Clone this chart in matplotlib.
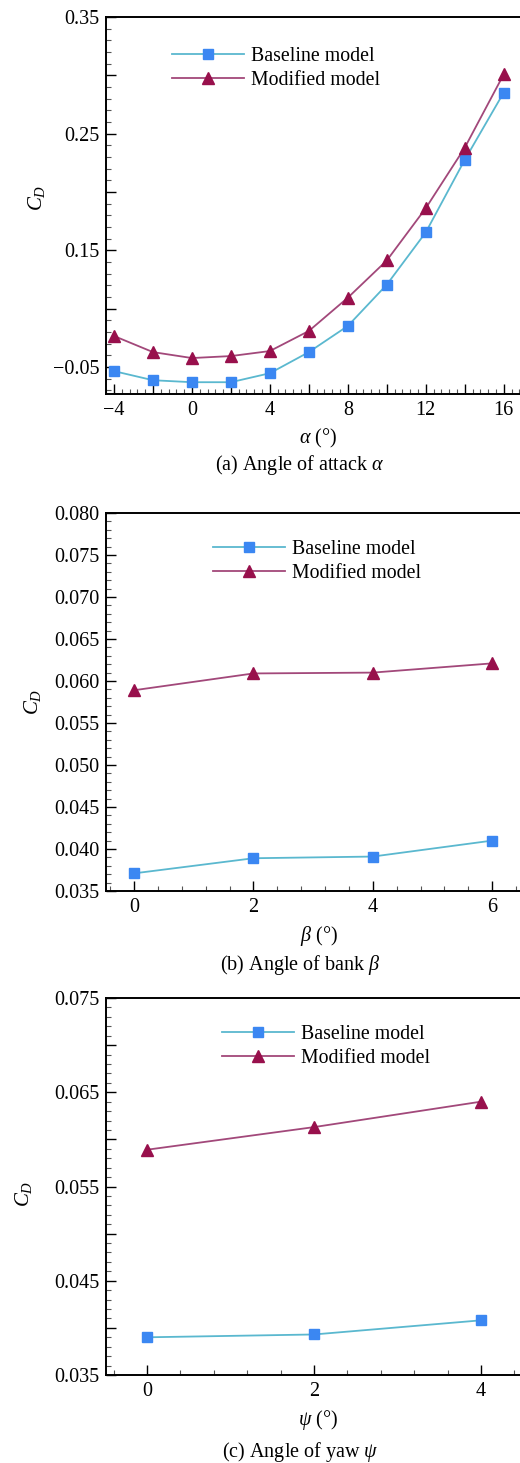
import matplotlib
matplotlib.use('Agg')
import matplotlib.pyplot as plt
from matplotlib.ticker import MultipleLocator

plt.rcParams['font.family'] = ['Liberation Serif', 'DejaVu Serif']
plt.rcParams['mathtext.fontset'] = 'custom'
plt.rcParams['mathtext.rm'] = 'Liberation Serif'
plt.rcParams['mathtext.it'] = 'Liberation Serif:italic'
plt.rcParams['font.size'] = 14

# (a) angle of attack
alpha = [-4, -2, 0, 2, 4, 6, 8, 10, 12, 14, 16]
cd_base_a = [0.0466, 0.0388, 0.0371, 0.0371, 0.0448, 0.0629, 0.0853, 0.1207, 0.1655, 0.2276, 0.2853]
cd_mod_a = [0.0767, 0.0629, 0.0578, 0.0595, 0.0638, 0.0810, 0.1095, 0.1414, 0.1862, 0.2380, 0.3009]

# (b) angle of bank
beta = [0, 2, 4, 6]
cd_base_b = [0.0371, 0.0389, 0.0391, 0.0410]
cd_mod_b = [0.0589, 0.0609, 0.0610, 0.0621]

# (c) angle of yaw
psi = [0, 2, 4]
cd_base_c = [0.0390, 0.0393, 0.0408]
cd_mod_c = [0.0589, 0.0613, 0.0640]

W, H = 520, 1463
fig = plt.figure(figsize=(W / 100, H / 100), dpi=100)

base_line = '#5ab8cf'
base_mark = '#3b87f2'
mod_line = '#a2487a'
mod_mark = '#98104c'
AX_L, AX_R = 106, 531


def px_axes(top, bottom):
    return fig.add_axes([AX_L / W, 1 - bottom / H, (AX_R - AX_L) / W, (bottom - top) / H])


def style(ax, label_x, label_y=0.5):
    for s in ax.spines.values():
        s.set_linewidth(1.4)
    ax.spines['right'].set_visible(False)
    ax.tick_params(which='both', direction='in', top=False, right=False, width=1.0, labelsize=14.5)
    ax.tick_params(which='major', length=7, pad=5)
    ax.tick_params(which='minor', length=3.5, width=0.8, color='#555555')
    ax.set_ylabel(r'$C_D$', fontsize=15)
    ax.yaxis.set_label_coords((label_x - AX_L) / (AX_R - AX_L), label_y)


def draw(ax, x, yb, ym, leg_xy):
    ax.plot(x, yb, color=base_line, lw=1.3, marker='s', ms=7, mfc=base_mark, mec=base_mark,
            label='Baseline model')
    ax.plot(x, ym, color=mod_line, lw=1.3, marker='^', ms=8, mfc=mod_mark, mec=mod_mark,
            label='Modified model')
    ax.legend(loc='upper left', bbox_to_anchor=(leg_xy[0] / W, 1 - leg_xy[1] / H),
              bbox_transform=fig.transFigure, frameon=False, borderpad=0, borderaxespad=0,
              handlelength=3.6, handletextpad=0.4, labelspacing=0.25, fontsize=14.3)


# panel a
ax1 = px_axes(17, 394)
draw(ax1, alpha, cd_base_a, cd_mod_a, (172, 47))
ax1.set_xlim(-4.41, 17.4)
ax1.set_ylim(0.027, 0.35)
ax1.set_xticks([-4, -2, 0, 2, 4, 6, 8, 10, 12, 14, 16])
ax1.set_xticklabels(['\u22124', '', '0', '', '4', '', '8', '', '12', '', '16'])
ax1.set_yticks([0.05, 0.10, 0.15, 0.20, 0.25, 0.30, 0.35])
ax1.set_yticklabels(['\u22120.05', '', '0.15', '', '0.25', '', '0.35'])
ax1.xaxis.set_minor_locator(MultipleLocator(0.4))
ax1.yaxis.set_minor_locator(MultipleLocator(0.01))
style(ax1, 47, 0.52)
ax1.set_xlabel(r'$\alpha$ (°)', fontsize=14.5, labelpad=5)
fig.text(300 / W, 1 - 465 / H, r'(a) Angle of attack $\alpha$', ha='center', va='center', fontsize=14.5)

# panel b
ax2 = px_axes(513, 891)
draw(ax2, beta, cd_base_b, cd_mod_b, (213, 540))
ax2.set_xlim(-0.47, 6.65)
ax2.set_ylim(0.035, 0.080)
ax2.set_xticks([0, 2, 4, 6])
ax2.set_yticks([0.035, 0.040, 0.045, 0.050, 0.055, 0.060, 0.065, 0.070, 0.075, 0.080])
ax2.set_yticklabels(['0.035', '0.040', '0.045', '0.050', '0.055', '0.060', '0.065', '0.070', '0.075', '0.080'])
ax2.xaxis.set_minor_locator(MultipleLocator(0.4))
ax2.yaxis.set_minor_locator(MultipleLocator(0.001))
style(ax2, 43)
ax2.set_xlabel(r'$\beta$ (°)', fontsize=14.5, labelpad=5)
fig.text(300 / W, 1 - 965 / H, r'(b) Angle of bank $\beta$', ha='center', va='center', fontsize=14.5)

# panel c
ax3 = px_axes(998, 1375)
draw(ax3, psi, cd_base_c, cd_mod_c, (222, 1025))
ax3.set_xlim(-0.49, 4.6)
ax3.set_ylim(0.035, 0.075)
ax3.set_xticks([0, 2, 4])
ax3.set_yticks([0.035, 0.040, 0.045, 0.050, 0.055, 0.060, 0.065, 0.070, 0.075])
ax3.set_yticklabels(['0.035', '', '0.045', '', '0.055', '', '0.065', '', '0.075'])
ax3.xaxis.set_minor_locator(MultipleLocator(0.4))
ax3.yaxis.set_minor_locator(MultipleLocator(0.001))
style(ax3, 34, 0.48)
ax3.set_xlabel(r'$\psi$ (°)', fontsize=14.5, labelpad=5)
fig.text(300 / W, 1 - 1452 / H, r'(c) Angle of yaw $\psi$', ha='center', va='center', fontsize=14.5)

fig.savefig('out.png', dpi=100)
